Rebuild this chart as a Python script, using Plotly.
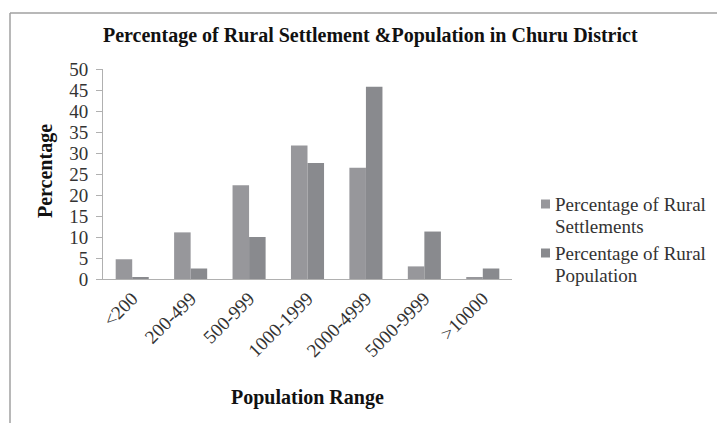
import plotly.graph_objects as go

categories = ["<200", "200-499", "500-999", "1000-1999", "2000-4999", "5000-9999", ">10000"]
settlements = [4.7, 11.1, 22.3, 31.8, 26.5, 3.0, 0.4]
population = [0.3, 2.5, 10.0, 27.6, 45.8, 11.3, 2.5]
series_names = ["Percentage of Rural<br>Settlements", "Percentage of Rural<br>Population"]
colors = ["#97979b", "#898a8e"]

W, H = 717, 423
L, R, T, B = 103, 205, 69, 144
pw, ph = W - L - R, H - T - B

def px(x):
    return (x - L) / pw

def py(y):
    return (H - B - y) / ph

serif = "Liberation Serif, Times New Roman, serif"

fig = go.Figure()
fig.add_trace(go.Bar(x=categories, y=settlements, name=series_names[0],
                     marker=dict(color=colors[0], line=dict(width=0))))
fig.add_trace(go.Bar(x=categories, y=population, name=series_names[1],
                     marker=dict(color=colors[1], line=dict(width=0))))

fig.update_layout(
    width=W, height=H,
    margin=dict(l=L, r=R, t=T, b=B),
    paper_bgcolor="white", plot_bgcolor="white",
    barmode="group", bargap=0.434, bargroupgap=0,
    font=dict(family=serif, color="#333333", size=19),
    showlegend=False,
    xaxis=dict(showline=True, linecolor="#b0b0b0", linewidth=1, ticks="",
               tickangle=-45, tickfont=dict(family=serif, size=19, color="#333333")),
    yaxis=dict(range=[0, 50], dtick=5, showline=True, linecolor="#b0b0b0", linewidth=1,
               ticks="outside", ticklen=6, tickcolor="#b0b0b0", showgrid=False, zeroline=False,
               ticklabelstandoff=4,
               tickfont=dict(family=serif, size=19, color="#333333")),
)

ann = []
ann.append(dict(text="<b>Percentage of Rural Settlement &Population in Churu District</b>",
                x=px(370), y=py(36), xref="paper", yref="paper", showarrow=False,
                xanchor="center", yanchor="middle",
                font=dict(family=serif, size=20, color="#111111")))
ann.append(dict(text="<b>Percentage</b>", x=px(45), y=py(171), xref="paper", yref="paper",
                showarrow=False, textangle=-90, xanchor="center", yanchor="middle",
                font=dict(family=serif, size=20, color="#111111")))
ann.append(dict(text="<b>Population Range</b>", x=px(307), y=py(397), xref="paper", yref="paper",
                showarrow=False, xanchor="center", yanchor="middle",
                font=dict(family=serif, size=20, color="#111111")))

# manual legend (each line placed separately)
leg_y = [204, 253]
line_gap = 22
for i, name in enumerate(series_names):
    yc = leg_y[i]
    fig.add_shape(type="rect", xref="paper", yref="paper",
                  x0=px(541), x1=px(550), y0=py(yc - 4.5), y1=py(yc + 4.5),
                  fillcolor=colors[i], line=dict(width=0))
    for j, part in enumerate(name.split("<br>")):
        ann.append(dict(text=part, x=px(553), y=py(yc + j * line_gap), xref="paper", yref="paper",
                        showarrow=False, xanchor="left", yanchor="middle", align="left",
                        font=dict(family=serif, size=19, color="#333333")))

fig.update_layout(annotations=ann)

fig.add_shape(type="line", xref="paper", yref="paper",
              x0=px(10), x1=px(10), y0=py(13), y1=py(440),
              line=dict(color="#a0a0a0", width=1.5))
fig.add_shape(type="line", xref="paper", yref="paper",
              x0=px(10), x1=px(730), y0=py(13), y1=py(13),
              line=dict(color="#a0a0a0", width=1.5))

fig.write_html("out.html")
